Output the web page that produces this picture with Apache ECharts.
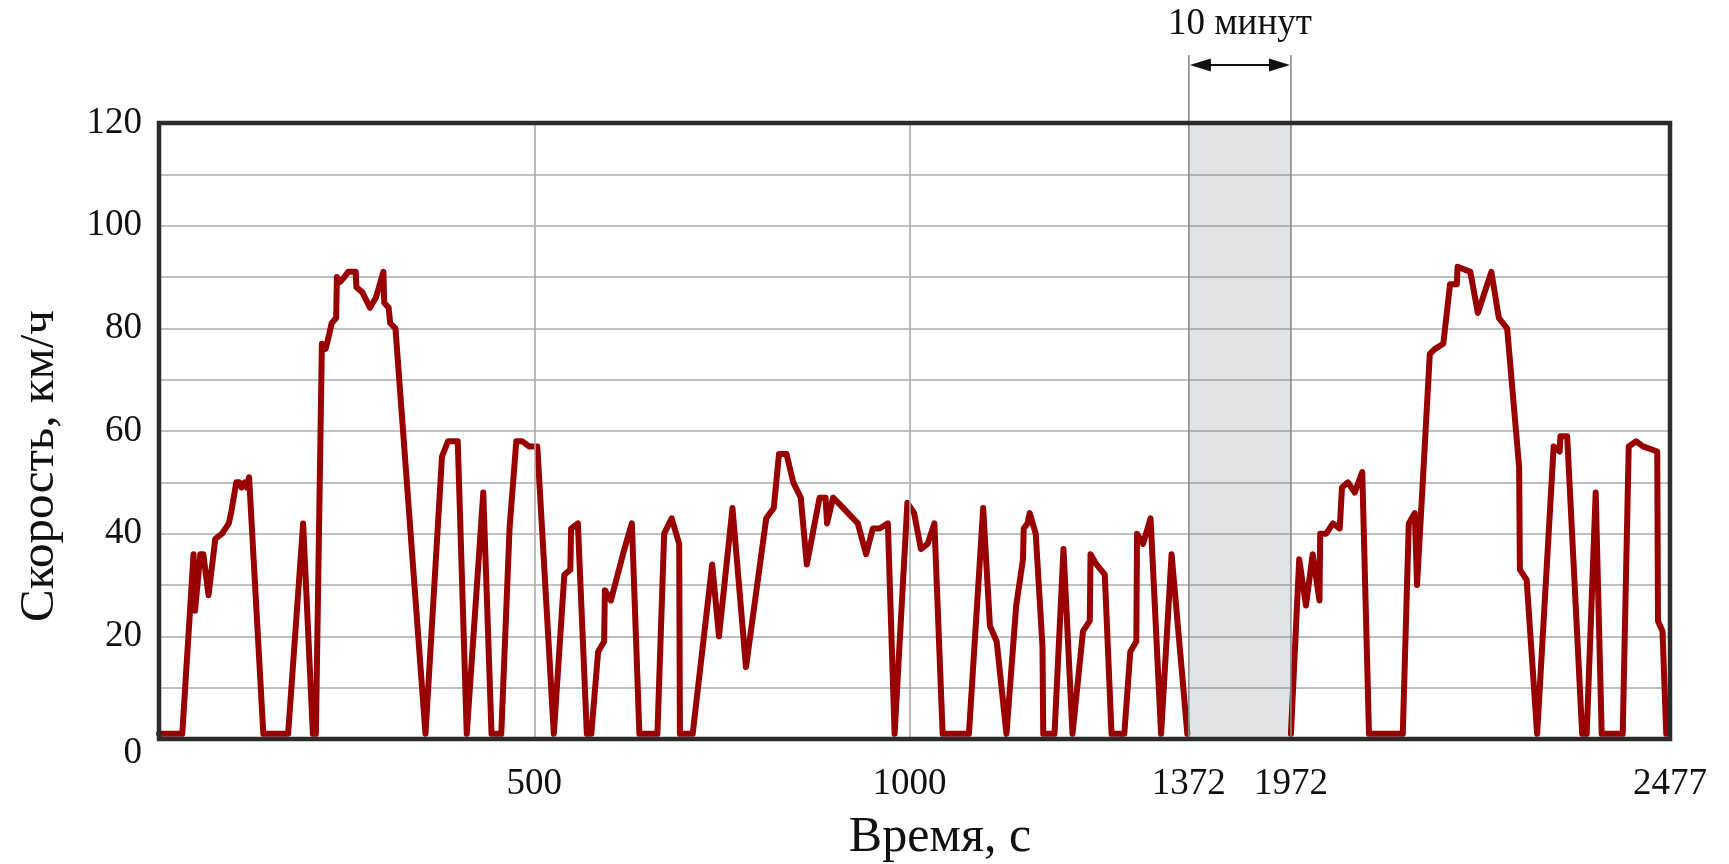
<!DOCTYPE html>
<html>
<head>
<meta charset="utf-8">
<script src="https://cdn.jsdelivr.net/npm/echarts@6.0.0/dist/echarts.min.js"></script>
<style>
  html, body { margin: 0; padding: 0; background: #ffffff; }
  #chart { width: 1729px; height: 864px; }
</style>
</head>
<body>
<div id="chart"></div>
<script>
// Speed trace before the stop, time in seconds
const timeFirst = [
  0, 31, 46, 48, 55, 59, 66, 75, 84, 93, 96, 103, 107, 110, 114, 117, 120, 139, 172, 192,
  205, 209, 217, 222, 224, 227, 230, 236, 237, 241, 247, 252, 262, 263, 271, 281, 289, 299, 300, 306,
  308, 315, 355, 377, 385, 398, 410, 432, 443, 456, 467, 476, 484, 493, 504, 526, 540, 548, 549, 558,
  570, 576, 585, 593, 594, 602, 620, 630, 640, 664, 673, 683, 693, 694, 711, 737, 746, 764, 782, 809,
  819, 826, 836, 845, 855, 863, 880, 888, 890, 898, 905, 931, 942, 951, 960, 971, 980, 997, 1006, 1015,
  1024, 1033, 1044, 1079, 1098, 1107, 1116, 1129, 1142, 1151, 1152, 1157, 1160, 1168, 1177, 1178, 1193, 1205, 1217, 1231,
  1240, 1241, 1249, 1260, 1269, 1286, 1294, 1302, 1303, 1311, 1321, 1335, 1349, 1370
];
// Speed, km/h
const speedFirst = [
  1, 1, 36, 25, 36, 36, 28, 39, 40, 42, 44, 50, 50, 49, 50, 49, 51, 1, 1, 42,
  1, 1, 77, 76, 76, 79, 81, 82, 90, 89, 90, 91, 91, 88, 87, 84, 86, 91, 85, 84,
  81, 80, 1, 55, 58, 58, 1, 48, 1, 1, 41, 58, 58, 57, 57, 1, 32, 33, 41, 42,
  1, 1, 17, 19, 29, 27, 37, 42, 1, 1, 40, 43, 38, 1, 1, 34, 20, 45, 14, 43,
  45, 55.5, 55.5, 50, 47, 34, 47, 47, 42, 47, 46, 42, 36, 41, 41, 42, 1, 46, 44, 37,
  38, 42, 1, 1, 45, 22, 19, 1, 26, 35, 41, 42, 44, 40, 18, 1, 1, 37, 1, 21,
  23, 36, 34, 32, 1, 1, 17, 19, 40, 38, 43, 1, 36, 1
];
// Speed trace after the stop
const timeSecond = [
  1972, 1983, 1992, 2001, 2010, 2011, 2019, 2028, 2037, 2040, 2048, 2057, 2067, 2076, 2121, 2129, 2137, 2140, 2148, 2157,
  2164, 2175, 2184, 2193, 2194, 2211, 2221, 2239, 2249, 2260, 2276, 2277, 2286, 2300, 2322, 2330, 2331, 2340, 2360, 2366,
  2378, 2386, 2414, 2422, 2432, 2441, 2460, 2461, 2467, 2472
];
const speedSecond = [
  1, 35, 26, 36, 27, 40, 40, 42, 41, 49, 50, 48, 52, 1, 1, 42, 44, 30, 51, 75,
  76, 77, 88.6, 88.6, 92, 91, 83, 91, 82, 80, 53, 33, 31, 1, 57, 56, 59, 59, 1, 1,
  48, 1, 1, 57, 58, 57, 56, 23, 21, 1
];

// Stop interval and axis settings
const pauseStart = 1372;
const pauseEnd = 1972;
const timeEnd = 2477;
const pauseLabel = '10 минут';
const xTickValues = [500, 1000, 1372, 1972, 2477];
const xGridValues = [500, 1000];
const speedMax = 120;
const speedStep = 20;
const xTitle = 'Время, с';
const yTitle = 'Скорость, км/ч';

const FONT = '"Liberation Serif", "Times New Roman", serif';
const LINE_COLOR = '#990000';
const GRID_COLOR = '#ababab';

const toPairs = (ts, vs) => ts.map((t, i) => [t, vs[i]]);

const chart = echarts.init(document.getElementById('chart'), null, { renderer: 'canvas' });

chart.setOption({
  animation: false,
  backgroundColor: '#ffffff',
  grid: { left: 159, right: 59, top: 123, bottom: 125, show: false },
  xAxis: {
    type: 'value',
    min: 0,
    max: timeEnd,
    breaks: [{ start: pauseStart, end: pauseEnd, gap: 136 }],
    breakArea: { show: false, expandOnClick: false },
    breakLabelLayout: { moveOverlap: false },
    axisLine: { show: false },
    axisTick: { show: false },
    splitLine: { show: false },
    axisLabel: {
      customValues: xTickValues,
      formatter: (v) => String(v),
      fontFamily: FONT,
      fontSize: 37,
      color: '#111111',
      margin: 27
    }
  },
  yAxis: {
    type: 'value',
    min: 0,
    max: speedMax,
    interval: speedStep,
    axisLine: { show: false },
    axisTick: { show: false },
    minorTick: { show: false, splitNumber: 2 },
    splitLine: { lineStyle: { color: GRID_COLOR, width: 1.6 } },
    minorSplitLine: { show: true, lineStyle: { color: GRID_COLOR, width: 1.6 } },
    axisLabel: {
      fontFamily: FONT,
      fontSize: 37,
      color: '#111111',
      margin: 17,
      formatter: (v) => (v === 0 ? '{zero|0}' : String(v)),
      rich: {
        zero: { fontFamily: FONT, fontSize: 37, color: '#111111', padding: [28, 0, 0, 0] }
      }
    }
  },
  series: [
    {
      // vertical reference lines and the shaded stop interval
      type: 'line',
      data: [],
      z: 1,
      silent: true,
      markLine: {
        silent: true,
        symbol: ['none', 'none'],
        label: { show: false },
        lineStyle: { color: GRID_COLOR, width: 1.6, type: 'solid' },
        data: xGridValues.map((v) => ({ xAxis: v }))
      },
      markArea: {
        silent: true,
        itemStyle: { color: 'rgba(110,115,125,0.2)' },
        data: [[{ xAxis: pauseStart }, { xAxis: pauseEnd }]]
      }
    },
    {
      name: yTitle,
      type: 'line',
      data: toPairs(timeFirst, speedFirst),
      showSymbol: false,
      z: 3,
      lineStyle: { color: LINE_COLOR, width: 6, join: 'round', cap: 'round' }
    },
    {
      name: yTitle,
      type: 'line',
      data: toPairs(timeSecond, speedSecond),
      showSymbol: false,
      z: 3,
      lineStyle: { color: LINE_COLOR, width: 6, join: 'round', cap: 'round' }
    }
  ]
});

// Frame, stop markers, arrow and titles positioned through the axes
function drawOverlay() {
  const px = (t) => chart.convertToPixel({ xAxisIndex: 0 }, t);
  const py = (v) => chart.convertToPixel({ yAxisIndex: 0 }, v);
  const x0 = px(0), x1 = px(timeEnd);
  const yTop = py(speedMax), yBot = py(0);
  const xa = px(pauseStart), xb = px(pauseEnd);
  const markTop = yTop - 68;
  const arrowY = yTop - 58;
  const head = 22, half = 6.5;

  chart.setOption({
    graphic: [
      {
        type: 'rect', z: 100, silent: true,
        shape: { x: x0, y: yTop, width: x1 - x0, height: yBot - yTop },
        style: { fill: null, stroke: '#2b2b2b', lineWidth: 4.5 }
      },
      {
        type: 'line', z: 50, silent: true,
        shape: { x1: xa, y1: markTop, x2: xa, y2: yBot },
        style: { stroke: '#8a8a8a', lineWidth: 1.6 }
      },
      {
        type: 'line', z: 50, silent: true,
        shape: { x1: xb, y1: markTop, x2: xb, y2: yBot },
        style: { stroke: '#8a8a8a', lineWidth: 1.6 }
      },
      {
        type: 'line', z: 50, silent: true,
        shape: { x1: xa + head - 2, y1: arrowY, x2: xb - head + 2, y2: arrowY },
        style: { stroke: '#111111', lineWidth: 2 }
      },
      {
        type: 'polygon', z: 50, silent: true,
        shape: { points: [[xa + 1, arrowY], [xa + head, arrowY - half], [xa + head, arrowY + half]] },
        style: { fill: '#111111' }
      },
      {
        type: 'polygon', z: 50, silent: true,
        shape: { points: [[xb - 1, arrowY], [xb - head, arrowY - half], [xb - head, arrowY + half]] },
        style: { fill: '#111111' }
      },
      {
        type: 'text', z: 50, silent: true,
        x: (xa + xb) / 2, y: 24,
        style: { text: pauseLabel, font: '37px ' + FONT, fill: '#111111', align: 'center', verticalAlign: 'middle' }
      },
      {
        type: 'text', z: 50, silent: true,
        x: 940, y: 838,
        style: { text: xTitle, font: '50px ' + FONT, fill: '#111111', align: 'center', verticalAlign: 'middle' }
      },
      {
        type: 'text', z: 50, silent: true,
        x: 40, y: 466, rotation: Math.PI / 2,
        style: { text: yTitle, font: '49px ' + FONT, fill: '#111111', align: 'center', verticalAlign: 'middle' }
      }
    ]
  });
}
drawOverlay();
</script>
</body>
</html>
